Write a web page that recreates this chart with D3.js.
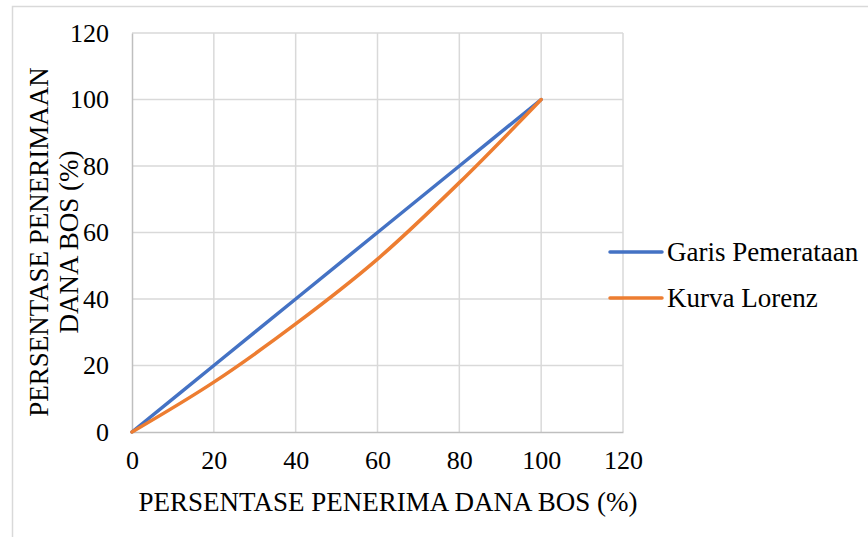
<!DOCTYPE html>
<html>
<head>
<meta charset="utf-8">
<script src="https://cdn.jsdelivr.net/npm/d3@7"></script>
<style>
  html, body { margin: 0; padding: 0; background: #fff; }
  svg { display: block; }
  svg text { font-family: "Liberation Serif", "Times New Roman", serif !important; fill: #000; }
</style>
</head>
<body>
<svg id="chart" width="868" height="537"></svg>
<script>
// Lorenz curve data (percent of recipients vs percent of funds received)
const xValues = [0, 20, 40, 60, 80, 100];
const equalityValues = [0, 20, 40, 60, 80, 100];
const lorenzValues = [0, 15, 32.5, 52, 75, 100];
const seriesNames = ["Garis Pemerataan", "Kurva Lorenz"];
const seriesColors = ["#4472C4", "#ED7D31"];
const xTicks = [0, 20, 40, 60, 80, 100, 120];
const yTicks = [0, 20, 40, 60, 80, 100, 120];
const xTitle = "PERSENTASE PENERIMA DANA BOS (%)";
const yTitleLines = ["PERSENTASE PENERIMAAN", "DANA BOS (%)"];

const tickFont = 26;
const titleFont = 27;
const svg = d3.select("#chart");

// outer chart frame
svg.append("rect")
  .attr("x", 12.5).attr("y", 6.5)
  .attr("width", 870).attr("height", 540)
  .attr("fill", "none").attr("stroke", "#D9D9D9").attr("stroke-width", 1.5);

const x = d3.scaleLinear().domain([0, 120]).range([132, 623]);
const y = d3.scaleLinear().domain([0, 120]).range([432, 33]);

// gridlines
const grid = svg.append("g");
grid.selectAll("line.v").data(xTicks.slice(1)).join("line")
  .attr("x1", d => x(d)).attr("x2", d => x(d))
  .attr("y1", y(0)).attr("y2", y(120))
  .attr("stroke", "#D9D9D9").attr("stroke-width", 1.5);
grid.selectAll("line.h").data(yTicks.slice(1)).join("line")
  .attr("x1", x(0)).attr("x2", x(120))
  .attr("y1", d => y(d)).attr("y2", d => y(d))
  .attr("stroke", "#D9D9D9").attr("stroke-width", 1.5);

// axes
const xAxis = svg.append("g").attr("transform", `translate(0,${y(0)})`)
  .call(d3.axisBottom(x).tickValues(xTicks).tickSize(0).tickPadding(19));
const yAxis = svg.append("g").attr("transform", `translate(${x(0)},0)`)
  .call(d3.axisLeft(y).tickValues(yTicks).tickSize(0).tickPadding(23));
[xAxis, yAxis].forEach(g => {
  g.attr("font-family", null).attr("font-size", tickFont);
  g.select(".domain").attr("stroke", "#BFBFBF").attr("stroke-width", 1.5);
});

// series lines
const line = d3.line()
  .x((d, i) => x(xValues[i]))
  .y(d => y(d))
  .curve(d3.curveCatmullRom);

[equalityValues, lorenzValues].forEach((vals, i) => {
  svg.append("path")
    .datum(vals)
    .attr("d", line)
    .attr("fill", "none")
    .attr("stroke", seriesColors[i])
    .attr("stroke-width", 3.5)
    .attr("stroke-linecap", "round");
});

// axis titles
svg.append("text")
  .attr("x", 388).attr("y", 511)
  .attr("text-anchor", "middle")
  .attr("font-size", titleFont)
  .text(xTitle);

const yTitle = svg.append("text")
  .attr("transform", "translate(48,242) rotate(-90)")
  .attr("text-anchor", "middle")
  .attr("font-size", titleFont);
yTitleLines.forEach((t, i) => {
  yTitle.append("tspan").attr("x", 0).attr("dy", i === 0 ? 0 : 30).text(t);
});

// legend
const legend = svg.append("g");
seriesNames.forEach((name, i) => {
  const ly = 252 + i * 46;
  legend.append("line")
    .attr("x1", 610).attr("x2", 662)
    .attr("y1", ly).attr("y2", ly)
    .attr("stroke", seriesColors[i]).attr("stroke-width", 3.5)
    .attr("stroke-linecap", "round");
  legend.append("text")
    .attr("x", 667).attr("y", ly + 9)
    .attr("font-size", titleFont)
    .text(name);
});
</script>
</body>
</html>
